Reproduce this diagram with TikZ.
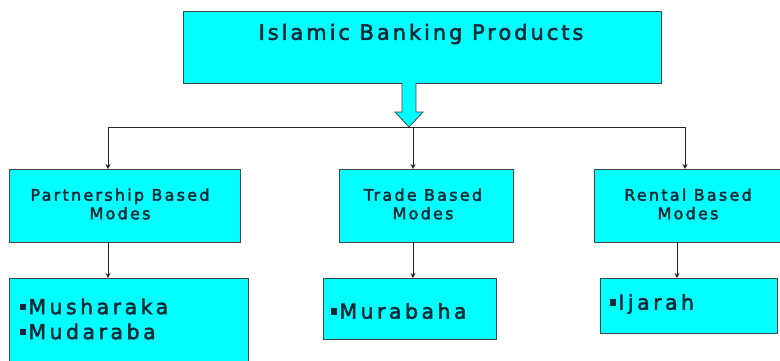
\documentclass[tikz,border=0pt]{standalone}
\usepackage{fontspec}
\setmainfont{DejaVu Sans}
\newfontfamily\ttlfont{DejaVu Sans}[FakeBold=2.5,LetterSpace=14]
\newfontfamily\midfont{DejaVu Sans}[FakeBold=2.5,LetterSpace=14]
\newfontfamily\itmfont{DejaVu Sans}[FakeBold=2.5,LetterSpace=17]
\usetikzlibrary{arrows.meta}
\definecolor{boxfill}{HTML}{00FFFF}
\definecolor{boxline}{HTML}{404848}
\definecolor{txt}{HTML}{0E2A36}
\newcommand{\sqb}{\raisebox{0.2em}{\rule{0.3em}{0.3em}}\hspace{0.1em}}
\tikzset{
  box/.style={draw=boxline, line width=1pt, fill=boxfill, inner sep=0pt},
  conn/.style={draw=black!85, line width=0.7pt, -{Stealth[length=5pt,width=5pt]}},
  lbl/.style={text=txt, align=center, inner sep=0pt},
  itm/.style={text=txt, align=left, inner sep=0pt, anchor=west}
}
\begin{document}
\begin{tikzpicture}[x=1pt,y=-1pt]
\useasboundingbox (0,0) rectangle (780,360);
% top box
\path[box] (183,11) rectangle (661,83);
\node[lbl, font=\ttlfont\fontsize{21}{24}\selectfont] (top) at (421,34) {Islamic Banking Products};
% hollow arrow
\path[draw=boxline, line width=0.8pt, fill=boxfill]
  (402,83) -- (402,112) -- (395,112) -- (409,127) -- (423,112) -- (416,112) -- (416,83);
% horizontal bus
\coordinate (busL) at (108,127);
\coordinate (busM) at (413,127);
\coordinate (busR) at (685,127);
\draw[line width=0.7pt, black!85] (busL) -- (busR);
% mid boxes
\path[box] (9,169) rectangle (240,242);
\path[box] (339,169) rectangle (513,242);
\path[box] (594,169) rectangle (781,242);
\node[lbl, font=\midfont\fontsize{16}{18.5}\selectfont] (pb) at (120,204) {Partnership Based\\Modes};
\node[lbl, font=\midfont\fontsize{16}{18.5}\selectfont] (tb) at (423,204) {Trade Based\\Modes};
\node[lbl, font=\midfont\fontsize{16}{18.5}\selectfont] (rb) at (688,204) {Rental Based\\Modes};
\coordinate (pbT) at (108,169);
\coordinate (tbT) at (413,169);
\coordinate (rbT) at (685,169);
\coordinate (pbB) at (108,242);
\coordinate (tbB) at (413,242);
\coordinate (rbB) at (677,242);
\draw[conn] (busL) -- (pbT);
\draw[conn] (busM) -- (tbT);
\draw[conn] (busR) -- (rbT);
% bottom boxes
\path[box] (9,278) rectangle (248,365);
\path[box] (323,278) rectangle (496,339);
\path[box] (600,278) rectangle (777,333);
\coordinate (mbT) at (108,278);
\coordinate (muT) at (413,278);
\coordinate (ijT) at (677,278);
\draw[conn] (pbB) -- (mbT);
\draw[conn] (tbB) -- (muT);
\draw[conn] (rbB) -- (ijT);
\node[itm, font=\itmfont\fontsize{20.5}{25}\selectfont] (mm) at (20,319) {\sqb Musharaka\\\sqb Mudaraba};
\node[itm, font=\itmfont\fontsize{20.5}{25}\selectfont] (mu) at (331,311) {\sqb Murabaha};
\node[itm, font=\itmfont\fontsize{20.5}{25}\selectfont] (ij) at (610,304) {\sqb Ijarah};
\end{tikzpicture}
\end{document}
